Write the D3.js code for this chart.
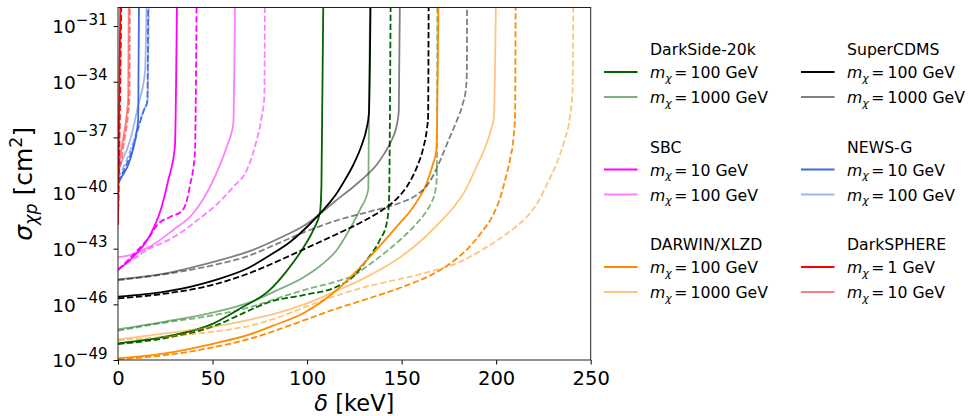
<!DOCTYPE html>
<html><head>
<meta charset="utf-8">
<script src="https://d3js.org/d3.v7.min.js"></script>
<style>
  body { margin: 0; background: #fff; }
  svg text { font-family: "DejaVu Sans", sans-serif; fill: #000; }
</style>
</head>
<body>
<svg id="chart" width="968" height="416"></svg>
<script>
// each curve: [delta in keV, log10 of sigma in cm^2]

// DarkSide-20k
const ds100Solid = [[0,-48.1],[25,-47.74],[50,-47.05],[65,-46.2],[80,-45.25],[90,-44.1],[98,-42.95],[103.5,-41.95],[106.8,-41.05],[107.6,-39.6],[108.6,-29.5]];
const ds100Dashed = [[0,-48.14],[25,-47.82],[51.3,-47.15],[68.9,-46.35],[80.4,-45.86],[98,-45.5],[115.7,-45.05],[124.4,-44.51],[131.5,-43.61],[138.5,-42.53],[142.1,-41.63],[143.3,-40.55],[144.2,-29.5]];
const ds1000Solid = [[0,-47.35],[25,-46.93],[50,-46.45],[70,-45.88],[85,-45.2],[98,-44.55],[107,-43.92],[115.7,-43.07],[122,-42.05],[127.9,-40.91],[132.4,-39.8],[133.3,-29.5]];
const ds1000Dashed = [[0,-47.42],[25,-46.98],[50,-46.6],[70,-46.15],[85,-45.65],[100,-45.18],[115,-44.78],[125,-44.42],[133,-43.85],[142,-43.15],[150,-42.45],[157,-41.75],[162,-41.15],[165.5,-40.55],[167.8,-39.9],[168.6,-39.2],[168.9,-29.5]];

// SBC
const sbc10Solid = [[0,-44.15],[9,-43.34],[16,-42.44],[23.1,-40.74],[26.6,-39.3],[30.1,-37.5],[31.2,-29.5]];
const sbc10Dashed = [[0,-44.15],[9,-43.23],[16,-42.44],[21.2,-41.67],[27.5,-41.29],[33.8,-40.97],[36.5,-40.37],[38.1,-39.57],[39.8,-38.67],[40.7,-37.77],[41.6,-29.5]];
const sbc100Solid = [[0,-43.47],[8.1,-43.29],[16.9,-42.89],[29.2,-41.99],[39.8,-41.09],[50.4,-39.3],[57.5,-37.5],[61,-36.24],[61.9,-29.5]];
const sbc100Dashed = [[0,-44.09],[9,-43.5],[16,-43.02],[25.8,-42.58],[33.7,-42.1],[43.4,-41.35],[51.3,-40.7],[61,-39.66],[68.1,-38.76],[72.4,-37.5],[76,-35.88],[77.4,-34.81],[77.7,-29.5]];

// DARWIN/XLZD
const dw100Solid = [[0,-48.91],[24.9,-48.64],[51.3,-48.1],[68.9,-47.65],[81.4,-47.17],[98,-46.48],[115.7,-45.23],[133.3,-43.43],[147.4,-41.81],[156.2,-40.74],[163.3,-39.46],[166.7,-38.4],[168.4,-37.68],[169.5,-29.5]];
const dw100Dashed = [[0,-48.96],[25,-48.74],[50,-48.32],[70,-47.85],[85,-47.35],[100,-46.8],[115,-46.25],[133,-45.67],[150,-45.08],[165,-44.45],[175,-43.85],[184,-43.1],[192,-42.15],[198,-41.25],[202,-40.3],[205,-39.2],[207.5,-38.1],[209.2,-37],[210,-35.8],[210.3,-29.5]];
const dw1000Solid = [[0,-47.89],[25,-47.57],[50,-47.22],[70,-46.82],[85,-46.45],[100,-45.95],[115,-45.3],[130,-44.6],[145,-43.75],[160,-42.6],[170,-41.6],[178,-40.7],[184,-39.8],[189.5,-38.6],[194,-37.6],[197.5,-36.5],[198.8,-35.9],[199.9,-29.5]];
const dw1000Dashed = [[0,-47.94],[25,-47.74],[50,-47.48],[70,-47.15],[85,-46.7],[100,-46.1],[115,-45.55],[133,-45.0],[150,-44.62],[165,-44.24],[180,-43.75],[192,-43.1],[202,-42.45],[210,-41.85],[217,-41.2],[222,-40.5],[227,-39.5],[232,-38.4],[236,-37.2],[239,-35.9],[240.4,-34.5],[240.8,-29.5]];

// SuperCDMS
const cdms100Solid = [[0,-45.59],[24.9,-45.32],[51.3,-44.69],[68.9,-44.04],[81.4,-43.29],[91,-42.64],[101.5,-41.67],[108.6,-40.91],[115.7,-40.01],[120,-39.3],[124.4,-38.49],[128.9,-37.41],[131.5,-36.51],[132.7,-35.7],[133.6,-29.5]];
const cdms100Dashed = [[0,-45.68],[25,-45.42],[50,-44.95],[70,-44.3],[85,-43.65],[100,-42.95],[115,-42.25],[130,-41.5],[140,-40.9],[148,-40.25],[154,-39.45],[158.5,-38.5],[161.5,-37.55],[163.3,-36.6],[164,-35.9],[164.3,-29.5]];
const cdms1000Solid = [[0,-44.65],[25,-44.33],[50,-43.72],[70,-43.12],[85,-42.45],[100,-41.65],[115,-40.43],[125,-39.62],[132,-39.0],[137,-38.45],[141,-37.85],[144.5,-37.2],[147.3,-36.4],[148.5,-35.6],[149.1,-29.5]];
const cdms1000Dashed = [[0,-44.7],[25,-44.37],[50,-43.9],[70,-43.35],[85,-42.7],[100,-42.05],[115,-41.5],[133,-41.0],[150,-40.5],[158,-40.1],[163,-39.65],[167,-39.0],[171,-38.1],[175,-37.1],[179,-36.15],[182.3,-35.2],[184,-34.4],[184.5,-33.5],[184.6,-29.5]];

// NEWS-G
const news10Solid = [[0,-39.51],[2,-39.12],[5.4,-38.49],[8.1,-37.59],[9.9,-36.69],[10.7,-35.97],[11.1,-29.5]];
const news10Dashed = [[0,-39.4],[2.8,-38.85],[7.2,-37.77],[10.7,-36.51],[13.4,-35.61],[15.5,-35.08],[16,-29.5]];
const news100Solid = [[0,-38.67],[2,-38.31],[7.2,-36.87],[10.7,-35.25],[14.3,-33.46],[15.2,-29.5]];
const news100Dashed = [[0,-39.19],[3.2,-38.54],[7.4,-37.46],[11.1,-36.28],[13.7,-35.52],[15.6,-34.98],[16.3,-29.5]];

// DarkSPHERE
const ds1Solid = [[0,-41.72],[0.2,-39.84],[0.5,-36.06],[1.3,-29.5]];
const ds1Dashed = [[0,-41.4],[0.4,-39.5],[1,-35.6],[1.8,-29.5]];
const dsp10Solid = [[0,-38.87],[1,-38.13],[2.8,-37.05],[4.6,-35.79],[5.4,-34.88],[5.7,-29.5]];
const dsp10Dashed = [[0,-39.08],[1.6,-38.33],[3.4,-37.14],[5.3,-35.79],[6.1,-34.71],[6.3,-29.5]];

const experiments = ["DarkSide-20k", "SBC", "DARWIN/XLZD", "SuperCDMS", "NEWS-G", "DarkSPHERE"];
const expColors = ["darkgreen", "magenta", "darkorange", "black", "royalblue", "red"];
const masses = [[100, 1000], [10, 100], [100, 1000], [100, 1000], [10, 100], [1, 10]];
const solidData = [[ds100Solid, ds1000Solid], [sbc10Solid, sbc100Solid], [dw100Solid, dw1000Solid],
                   [cdms100Solid, cdms1000Solid], [news10Solid, news100Solid], [ds1Solid, dsp10Solid]];
const dashedData = [[ds100Dashed, ds1000Dashed], [sbc10Dashed, sbc100Dashed], [dw100Dashed, dw1000Dashed],
                    [cdms100Dashed, cdms1000Dashed], [news10Dashed, news100Dashed], [ds1Dashed, dsp10Dashed]];

const xTicks = [0, 50, 100, 150, 200, 250];
const yTickExps = [-49, -46, -43, -40, -37, -34, -31];

let svg = d3.select("svg#chart");
let margin = { top: 7.5, left: 118, right: 377.3, bottom: 56 };
let chartWidth = 968 - margin.left - margin.right;
let chartHeight = 416 - margin.top - margin.bottom;

const x = d3.scaleLinear().domain([0, 250]).range([0, chartWidth]);
const y = d3.scaleLog().domain([1e-49, 1e-30]).range([chartHeight, 0]);

let chart = svg.append("g").attr("transform", "translate(" + margin.left + "," + margin.top + ")");

chart.append("clipPath").attr("id", "plotclip")
  .append("rect").attr("width", chartWidth).attr("height", chartHeight);

let curveGroup = chart.append("g").attr("clip-path", "url(#plotclip)");

const line = d3.line()
  .x(d => x(d[0]))
  .y(d => y(Math.pow(10, d[1])))
  .curve(d3.curveMonotoneX);

experiments.forEach((name, i) => {
  [0, 1].forEach(k => {
    [[solidData[i][k], null], [dashedData[i][k], "6.3,2.7"]].forEach(([data, dash]) => {
      curveGroup.append("path")
        .attr("d", line(data))
        .attr("fill", "none")
        .attr("stroke", expColors[i])
        .attr("stroke-opacity", k == 0 ? 1 : 0.5)
        .attr("stroke-width", 1.8)
        .attr("stroke-dasharray", dash);
    });
  });
});

// axes
let bottomAxis = d3.axisBottom(x).tickValues(xTicks).tickSize(4.5).tickPadding(6.5).tickFormat(d3.format("d"));
let xg = chart.append("g").attr("transform", "translate(0," + chartHeight + ")").call(bottomAxis);
xg.select(".domain").remove();
xg.selectAll("text").style("font-size", "19.5px").style("font-family", "DejaVu Sans");

let leftAxis = d3.axisLeft(y).tickValues(yTickExps.map(e => Math.pow(10, e))).tickSize(4.5).tickPadding(6).tickFormat("");
let yg = chart.append("g").call(leftAxis);
yg.select(".domain").remove();
yg.selectAll(".tick text").each(function(d) {
  let t = d3.select(this).attr("dy", "0.36em").style("font-size", "18.5px").style("font-family", "DejaVu Sans");
  t.text("");
  t.append("tspan").text("10");
  t.append("tspan").attr("dy", -8.5).style("font-size", "15px").text("\u2212" + Math.abs(Math.round(Math.log10(d))));
});

// frame
chart.append("rect")
  .attr("width", chartWidth).attr("height", chartHeight)
  .attr("fill", "none").attr("stroke", "#222").attr("stroke-width", 1);

// axis labels
let xl = svg.append("text").attr("x", margin.left + chartWidth / 2).attr("y", 410.5)
  .attr("text-anchor", "middle").style("font-size", "22.5px");
xl.append("tspan").style("font-style", "italic").text("\u03b4");
xl.append("tspan").text(" [keV]");

let yl = svg.append("text").attr("transform", "translate(31.5," + (margin.top + chartHeight / 2) + ") rotate(-90)")
  .attr("text-anchor", "middle").style("font-size", "25px");
yl.append("tspan").style("font-style", "italic").text("\u03c3");
yl.append("tspan").style("font-style", "italic").style("font-size", "17.5px").attr("dy", 5).text("\u03c7p");
yl.append("tspan").attr("dy", -5).text(" [cm");
yl.append("tspan").style("font-size", "17.5px").attr("dy", -10).text("2");
yl.append("tspan").attr("dy", 10).text("]");

// legend, two columns, three groups each
let legend = svg.append("g");
const colX = [604, 801];
experiments.forEach((name, i) => {
  let col = Math.floor(i / 3), grp = i % 3;
  let x0 = colX[col], base = 55 + grp * 97.5;
  legend.append("text").attr("x", x0 + 46).attr("y", base).style("font-size", "15.7px").text(name);
  masses[i].forEach((m, k) => {
    let by = base + 23.3 + k * 25;
    legend.append("line")
      .attr("x1", x0).attr("x2", x0 + 33.5).attr("y1", by - 6.3).attr("y2", by - 6.3)
      .attr("stroke", expColors[i]).attr("stroke-opacity", k == 0 ? 1 : 0.5).attr("stroke-width", 2);
    let t = legend.append("text").attr("x", x0 + 46).attr("y", by).style("font-size", "15.7px");
    t.append("tspan").style("font-style", "italic").text("m");
    t.append("tspan").style("font-style", "italic").style("font-size", "11px").attr("dy", 3.5).text("\u03c7");
    t.append("tspan").attr("dy", -3.5).attr("dx", 2.5).text("=");
    t.append("tspan").attr("dx", 3).text(m + " GeV");
  });
});
</script>
</body></html>
